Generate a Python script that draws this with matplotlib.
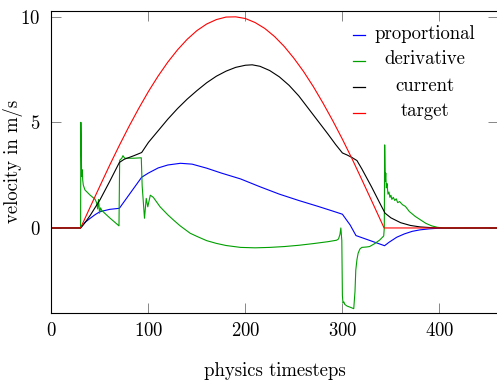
import matplotlib
matplotlib.use("Agg")
import matplotlib.pyplot as plt

plt.rcParams['font.family'] = ['cmr10', 'DejaVu Serif']
plt.rcParams['mathtext.fontset'] = 'cm'
plt.rcParams['axes.unicode_minus'] = False
plt.rcParams['axes.formatter.use_mathtext'] = True

FS = 13.5

# target velocity
t_target = [0, 30, 40, 50, 60, 70, 80, 90, 100, 110, 120, 130, 140, 150, 160,
            170, 180, 190, 200, 210, 220, 230, 240, 250, 260, 270, 280, 290,
            300, 310, 320, 330, 340, 343, 460]
v_target = [0, 0, 1.00, 1.99, 2.97, 3.91, 4.81, 5.66, 6.46, 7.19, 7.85, 8.43,
            8.93, 9.34, 9.65, 9.86, 9.98, 9.99, 9.91, 9.72, 9.44, 9.06, 8.59,
            8.03, 7.40, 6.69, 5.91, 5.08, 4.20, 3.27, 2.29, 1.30, 0.30, 0, 0]

# current velocity
t_current = [0, 30, 35, 40, 50, 60, 70, 75, 85, 93, 100, 110, 120, 130, 140,
             150, 160, 170, 180, 190, 200, 207, 215, 225, 235, 245, 255, 265,
             275, 285, 293, 300, 305, 310, 315, 320, 330, 340, 344, 350, 360,
             370, 380, 390, 400, 460]
v_current = [0, 0, 0.28, 0.6, 1.33, 2.2, 3.1, 3.25, 3.42, 3.57, 4.05, 4.6,
             5.15, 5.65, 6.1, 6.5, 6.87, 7.18, 7.42, 7.6, 7.7, 7.72, 7.65,
             7.45, 7.15, 6.75, 6.25, 5.65, 5.05, 4.45, 3.95, 3.55, 3.45, 3.33,
             3.19, 2.8, 1.95, 1.05, 0.7, 0.48, 0.25, 0.12, 0.05, 0.02, 0.0, 0.0]

# proportional term
t_prop = [0, 30, 35, 40, 45, 50, 60, 70, 80, 93, 100, 110, 120, 133, 145, 160,
          175, 195, 215, 235, 255, 275, 290, 300, 308, 314, 322, 343.5, 348,
          356, 364, 372, 380, 390, 400, 460]
v_prop = [0, 0, 0.28, 0.46, 0.63, 0.77, 0.88, 0.93, 1.57, 2.4, 2.6, 2.84, 2.98,
          3.06, 3.02, 2.83, 2.6, 2.32, 1.95, 1.6, 1.3, 1.02, 0.8, 0.65, 0.14,
          -0.36, -0.49, -0.84, -0.68, -0.44, -0.28, -0.16, -0.09, -0.04,
          -0.01, 0]

# derivative term
t_deriv = [0, 30, 30.3, 31.1, 31.8, 32.2, 32.8, 34.5, 39.7, 44.9, 46.5, 47.6,
           48.5, 49.6, 50.6, 52, 60, 69.6, 70.3, 72.5, 73.7, 75.5, 85, 92.6,
           93.5, 95.9, 97.7, 99.3, 101.9, 105, 112, 120, 125.7, 132.7, 143,
           150, 160, 170, 180, 195, 210, 225, 240, 255, 270, 285, 294, 296,
           297.5, 298.4, 299.4, 300, 300.6, 301.5, 302.5, 305, 308, 311.7,
           313, 313.8, 315, 316.2, 318, 320, 325, 328, 333, 338.5, 342.6,
           343.2, 343.6, 344.2, 344.7, 345.3, 346, 347, 348, 349, 350, 351,
           352.5, 354, 355.5, 357, 359, 362, 365, 369, 375, 380, 386, 392,
           398, 405, 460]
v_deriv = [0, 0, 5.0, 2.43, 2.75, 2.27, 2.03, 1.8, 1.56, 1.36, 1.2, 0.9, 1.35,
           0.7, 0.95, 0.82, 0.48, 0.1, 3.2, 3.3, 3.42, 3.3, 3.3, 3.32, 2.0,
           0.46, 1.4, 1.0, 1.55, 1.45, 1.0, 0.62, 0.38, 0.1, -0.25, -0.4,
           -0.6, -0.73, -0.83, -0.92, -0.94, -0.92, -0.88, -0.82, -0.74,
           -0.65, -0.58, -0.52, -0.3, 0.0, -0.6, -3.2, -3.55, -3.5, -3.62,
           -3.7, -3.75, -3.82, -3.0, -2.0, -1.5, -1.2, -1.0, -0.92, -0.9,
           -0.88, -0.75, -0.57, -0.38, 0.0, 3.93, 2.2, 2.6, 1.9, 2.1, 1.6,
           1.7, 1.45, 1.55, 1.35, 1.45, 1.3, 1.38, 1.2, 1.25, 1.1, 1.02, 0.78,
           0.55, 0.4, 0.22, 0.1, 0.03, 0.0, 0.0]

series = [
    ("proportional", t_prop, v_prop, "#0000ff"),
    ("derivative", t_deriv, v_deriv, "#00a000"),
    ("current", t_current, v_current, "#000000"),
    ("target", t_target, v_target, "#ff0000"),
]

fig = plt.figure(figsize=(4.97, 3.8), dpi=100)
ax = fig.add_axes([0.1036, 0.1771, 0.8975, 0.7947])

for name, t, v, c in series:
    ax.plot(t, v, color=c, lw=0.8)

ax.set_xlim(0, 460)
ax.set_ylim(-4.01, 10.28)
ax.set_xticks([0, 100, 200, 300, 400])
ax.set_yticks([0, 5, 10])
ax.tick_params(direction='in', length=7.5, width=0.6, color='0.45',
               top=True, right=True, labelsize=FS)
ax.tick_params(axis='x', pad=6.5)
ax.tick_params(axis='y', pad=8)
for s in ax.spines.values():
    s.set_linewidth(0.8)

ax.set_xlabel('physics timesteps', fontsize=FS, labelpad=16)
ax.set_ylabel('velocity in m/s', fontsize=FS, labelpad=-2)

# legend: short line, centred label
row_y = [0.9195, 0.8335, 0.7464, 0.6623]
for (name, t, v, c), y in zip(series, row_y):
    ax.plot([0.677, 0.703], [y, y], color=c, lw=0.9, transform=ax.transAxes)
    ax.text(0.838, y - 0.0116, name, ha='center', va='baseline',
            fontsize=FS, transform=ax.transAxes)

fig.savefig('out.png', dpi=100)
